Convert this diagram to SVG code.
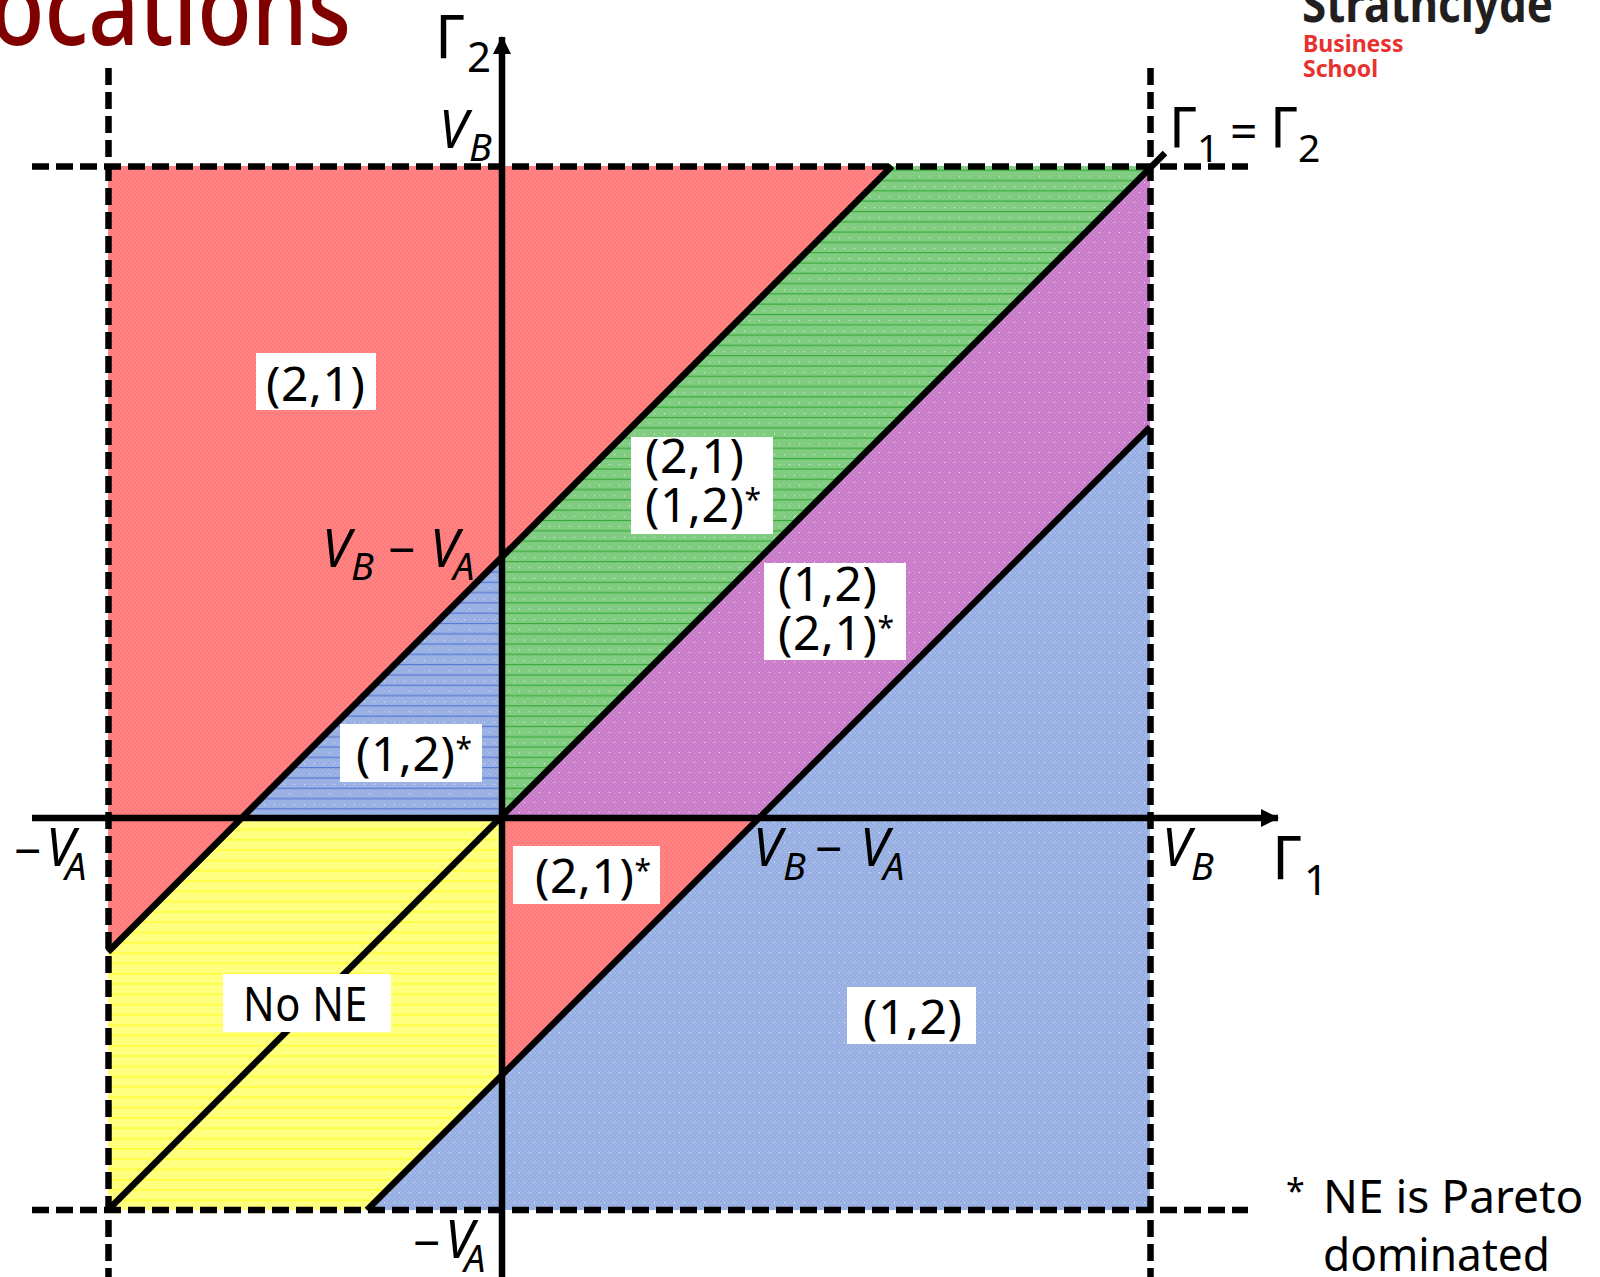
<svg xmlns="http://www.w3.org/2000/svg" width="1600" height="1277" viewBox="0 0 1600 1277">
<style>
text{font-family:"Noto Sans","Open Sans","Liberation Sans",sans-serif;fill:#000}
.lab{font-size:48px;letter-spacing:.6px}
.st{font-size:30px}
.sub{font-size:37px}
.it{font-style:italic;font-size:52px}
.its{font-style:italic;font-size:38px}
.g{font-size:60px}
.gs{font-size:42px}
.g2{font-size:56px}
.gs2{font-size:39px}
.ax{stroke:#000;stroke-width:6.500;fill:none}
.d{stroke:#000;stroke-width:6.500;fill:none;stroke-dasharray:17 7}
.box{fill:#fff}
.note{font-size:46px}
</style>
<defs>
<pattern id="chkR" width="4" height="4" patternUnits="userSpaceOnUse"><rect width="4" height="4" fill="#ff8585"/><rect width="2" height="2" fill="#ff7a7a"/><rect x="2" y="2" width="2" height="2" fill="#ff7a7a"/></pattern>
<pattern id="chkG" width="4" height="4" patternUnits="userSpaceOnUse"><rect width="4" height="4" fill="#86cf86"/><rect width="2" height="2" fill="#7cc97c"/><rect x="2" y="2" width="2" height="2" fill="#7cc97c"/></pattern>
<pattern id="chkP" width="4" height="4" patternUnits="userSpaceOnUse"><rect width="4" height="4" fill="#ce85ce"/><rect width="2" height="2" fill="#c67ac8"/><rect x="2" y="2" width="2" height="2" fill="#c67ac8"/></pattern>
<pattern id="chkB" width="4" height="4" patternUnits="userSpaceOnUse"><rect width="4" height="4" fill="#9fb6e6"/><rect width="2" height="2" fill="#95ade1"/><rect x="2" y="2" width="2" height="2" fill="#95ade1"/></pattern>
<pattern id="patG" width="20" height="20.600" patternUnits="userSpaceOnUse"><rect width="20" height="20.600" fill="url(#chkG)"/><rect y="5" width="20" height="1" fill="#2aa52a"/><rect y="15.300" width="20" height="1" fill="#2aa52a"/><rect x="4" y="1" width="1" height="1" fill="#e8f6e8"/><rect x="14" y="1" width="1" height="1" fill="#e8f6e8"/><rect x="9" y="11" width="1" height="1" fill="#e8f6e8"/><rect x="19" y="11" width="1" height="1" fill="#e8f6e8"/></pattern>
<pattern id="patP" width="20" height="20" patternUnits="userSpaceOnUse"><rect width="20" height="20" fill="url(#chkP)"/><rect x="4" y="2" width="1" height="1" fill="#f2e2f2"/><rect x="14" y="2" width="1" height="1" fill="#f2e2f2"/><rect x="9" y="12" width="1" height="1" fill="#f2e2f2"/><rect x="19" y="12" width="1" height="1" fill="#f2e2f2"/></pattern>
<pattern id="patB" width="20" height="20" patternUnits="userSpaceOnUse"><rect width="20" height="20" fill="url(#chkB)"/><rect x="4" y="2" width="1" height="1" fill="#e6ecf9"/><rect x="14" y="2" width="1" height="1" fill="#e6ecf9"/><rect x="9" y="12" width="1" height="1" fill="#e6ecf9"/><rect x="19" y="12" width="1" height="1" fill="#e6ecf9"/></pattern>
<pattern id="patBL" width="20" height="20.600" patternUnits="userSpaceOnUse"><rect width="20" height="20.600" fill="url(#chkB)"/><rect y="5" width="20" height="1" fill="#4a6fd0"/><rect y="15.300" width="20" height="1" fill="#4a6fd0"/><rect x="4" y="1" width="1" height="1" fill="#e6ecf9"/><rect x="14" y="1" width="1" height="1" fill="#e6ecf9"/><rect x="9" y="11" width="1" height="1" fill="#e6ecf9"/></pattern>
<pattern id="patY" width="20" height="10.300" patternUnits="userSpaceOnUse"><rect width="20" height="10.300" fill="#ffff80"/><rect y="5" width="20" height="1" fill="#ffff10"/></pattern>
<marker id="arr" markerUnits="userSpaceOnUse" markerWidth="20" markerHeight="20" refX="17" refY="10" orient="auto"><path d="M0 1L18 10L0 19z" fill="#000"/></marker>
</defs>
<g id="header">
<text x="-10" y="45" textLength="361" lengthAdjust="spacingAndGlyphs" style="fill:#800000;font-size:106px;font-weight:500">ocations</text>
<text x="1302" y="22" textLength="251" lengthAdjust="spacingAndGlyphs" style="fill:#231f20;font-size:50px;font-weight:700">Strathclyde</text>
<text x="1303" y="52" style="fill:#e8312f;font-size:23px;font-weight:700">Business</text>
<text x="1303" y="77" style="fill:#e8312f;font-size:23px;font-weight:700">School</text>
</g>
<g id="regions">
<polygon id="r-red-top" points="108,166 892,166 108,952" fill="url(#chkR)"/>
<polygon id="r-green" points="892,166 1150,166 502,818 502,558" fill="url(#patG)"/>
<polygon id="r-purple" points="1150,166 1150,427 759,818 502,818" fill="url(#patP)"/>
<polygon id="r-blue-small" points="502,558 502,818 243,818" fill="url(#patBL)"/>
<polygon id="r-yellow" points="243,818 502,818 502,1075 367,1210 108,1210 108,952" fill="url(#patY)"/>
<polygon id="r-red-small" points="502,818 759,818 502,1075" fill="url(#chkR)"/>
<polygon id="r-blue" points="759,818 1150,427 1150,1210 367,1210 502,1075" fill="url(#patB)"/>
</g>
<g id="connectors">
<line class="d" x1="108.500" y1="68" x2="108.500" y2="1277"/>
<line class="d" x1="1150.500" y1="68" x2="1150.500" y2="1277"/>
<line class="d" x1="32" y1="166.500" x2="1248" y2="166.500"/>
<line class="d" x1="32" y1="1210" x2="1248" y2="1210"/>
<line class="ax" x1="108" y1="952" x2="892" y2="166"/>
<line class="ax" x1="108" y1="1210" x2="1165" y2="153"/>
<line class="ax" x1="367" y1="1210" x2="1150" y2="427"/>
<line class="ax" x1="32" y1="818" x2="1278" y2="818" marker-end="url(#arr)"/>
<line class="ax" x1="502" y1="1277" x2="502" y2="37" marker-end="url(#arr)"/>
</g>
<g id="n-21"><rect class="box" x="256" y="353" width="120" height="57"/><text class="lab" x="266" y="401">(2,1)</text></g>
<g id="n-21-12"><rect class="box" x="631" y="437" width="142" height="97"/><text class="lab" x="645" y="473">(2,1)</text><text class="lab" x="645" y="522">(1,2)<tspan class="st" dy="-12">*</tspan></text></g>
<g id="n-12-21"><rect class="box" x="764" y="563" width="142" height="97"/><text class="lab" x="778" y="601">(1,2)</text><text class="lab" x="778" y="650">(2,1)<tspan class="st" dy="-12">*</tspan></text></g>
<g id="n-12s"><rect class="box" x="340" y="724" width="142" height="58"/><text class="lab" x="356" y="771">(1,2)<tspan class="st" dy="-12">*</tspan></text></g>
<g id="n-21s"><rect class="box" x="513" y="846" width="147" height="58"/><text class="lab" x="535" y="893">(2,1)<tspan class="st" dy="-12">*</tspan></text></g>
<g id="n-none"><rect class="box" x="223" y="974" width="168" height="58"/><text class="lab" x="243" y="1021" textLength="125" lengthAdjust="spacingAndGlyphs">No NE</text></g>
<g id="n-12"><rect class="box" x="847" y="987" width="129" height="57"/><text class="lab" x="863" y="1034">(1,2)</text></g>
<g id="axis-labels">
<text x="435" y="58"><tspan class="g">Γ</tspan><tspan class="gs" x="467" y="72">2</tspan></text>
<text x="1272" y="879"><tspan class="g">Γ</tspan><tspan class="gs" x="1304" y="895">1</tspan></text>
<text x="1169" y="148"><tspan class="g2">Γ</tspan><tspan class="gs2" x="1197" y="162">1</tspan><tspan class="lab" x="1230" y="148">=</tspan><tspan class="g2" x="1270" y="148">Γ</tspan><tspan class="gs2" x="1298" y="162">2</tspan></text>
<text x="439" y="148"><tspan class="it">V</tspan><tspan class="its" x="469" y="161">B</tspan></text>
<text x="322" y="567"><tspan class="it">V</tspan><tspan class="its" x="351" y="580">B</tspan><tspan class="lab" x="388" y="567">−</tspan><tspan class="it" x="430" y="567">V</tspan><tspan class="its" x="453" y="580">A</tspan></text>
<text x="14" y="868"><tspan class="lab">−</tspan><tspan class="it" x="46" y="866">V</tspan><tspan class="its" x="65" y="880">A</tspan></text>
<text x="413" y="1260"><tspan class="lab">−</tspan><tspan class="it" x="445" y="1258">V</tspan><tspan class="its" x="464" y="1272">A</tspan></text>
<text x="753" y="866"><tspan class="it">V</tspan><tspan class="its" x="783" y="880">B</tspan><tspan class="lab" x="815" y="866">−</tspan><tspan class="it" x="860" y="866">V</tspan><tspan class="its" x="883" y="880">A</tspan></text>
<text x="1162" y="866"><tspan class="it">V</tspan><tspan class="its" x="1191" y="880">B</tspan></text>
<text x="1286" y="1203" style="font-size:34px">*</text>
<text class="note" x="1323" y="1213">NE is Pareto</text>
<text class="note" x="1323" y="1271" textLength="227" lengthAdjust="spacingAndGlyphs">dominated</text>
</g>
</svg>
